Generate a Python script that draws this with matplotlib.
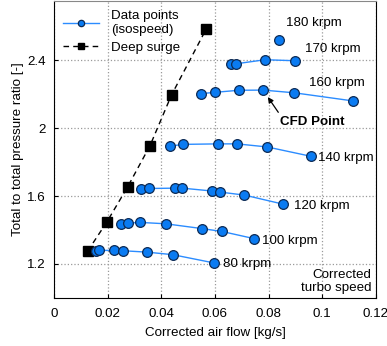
import matplotlib
matplotlib.use('Agg')
import matplotlib.pyplot as plt

plt.rcParams['font.family'] = ['Liberation Sans', 'DejaVu Sans']

# isospeed lines (corrected air flow [kg/s], pressure ratio [-])
flow_80 = [0.0155, 0.0168, 0.0225, 0.0257, 0.0345, 0.0442, 0.0597]
pr_80 = [1.276, 1.280, 1.280, 1.278, 1.270, 1.255, 1.206]
flow_100 = [0.0250, 0.0274, 0.0321, 0.0416, 0.0550, 0.0625, 0.0747]
pr_100 = [1.437, 1.441, 1.445, 1.437, 1.409, 1.392, 1.349]
flow_120 = [0.0323, 0.0353, 0.0451, 0.0478, 0.0590, 0.0618, 0.0710, 0.0853]
pr_120 = [1.641, 1.645, 1.647, 1.647, 1.630, 1.624, 1.606, 1.553]
flow_140 = [0.0432, 0.0479, 0.0612, 0.0682, 0.0794, 0.0957]
pr_140 = [1.894, 1.905, 1.908, 1.908, 1.890, 1.835]
flow_160 = [0.0547, 0.0601, 0.0689, 0.0780, 0.0896, 0.1115]
pr_160 = [2.204, 2.212, 2.224, 2.225, 2.209, 2.161]
flow_170 = [0.0658, 0.0678, 0.0787, 0.0900]
pr_170 = [2.378, 2.380, 2.404, 2.398]
flow_180 = [0.0837]
pr_180 = [2.518]

# deep surge points
surge_flow = [0.01255, 0.0196, 0.0274, 0.0358, 0.0438, 0.0567]
surge_pr = [1.276, 1.445, 1.653, 1.898, 2.196, 2.584]

lines = [(flow_80, pr_80), (flow_100, pr_100), (flow_120, pr_120),
         (flow_140, pr_140), (flow_160, pr_160), (flow_170, pr_170),
         (flow_180, pr_180)]

fig = plt.figure(figsize=(3.87, 3.46), dpi=100)
ax = fig.add_axes([0.1395, 0.139, 0.832, 0.858])

blue_line = '#2b8cff'
blue_face = '#0a7bf2'
edge = '#0d2b55'

for i, (fl, pr) in enumerate(lines):
    ax.plot(fl, pr, '-o', color=blue_line, lw=1.0, ms=7,
            mfc=blue_face, mec=edge, mew=0.9,
            label='Data points\n(isospeed)' if i == 0 else None, zorder=3)

ax.plot(surge_flow, surge_pr, '--s', color='black', lw=1.0, ms=7,
        mfc='black', mec='black', dashes=(4, 3), label='Deep surge', zorder=2)

fs = 9.6
ax.text(0.0629, 1.202, '80 krpm', fontsize=fs, va='center', ha='left')
ax.text(0.0777, 1.337, '100 krpm', fontsize=fs, va='center', ha='left')
ax.text(0.0894, 1.543, '120 krpm', fontsize=fs, va='center', ha='left')
ax.text(0.0983, 1.825, '140 krpm', fontsize=fs, va='center', ha='left')
ax.text(0.0949, 2.266, '160 krpm', fontsize=fs, va='center', ha='left')
ax.text(0.0937, 2.466, '170 krpm', fontsize=fs, va='center', ha='left')
ax.text(0.0968, 2.62, '180 krpm', fontsize=fs, va='center', ha='center')

# CFD point marker arrow
ax.annotate('', xy=(0.0797, 2.184), xytext=(0.0836, 2.094),
            arrowprops=dict(arrowstyle='-|>', color='black', lw=0.9,
                            shrinkA=0, shrinkB=0, mutation_scale=8))
ax.text(0.0961, 2.037, 'CFD Point', fontsize=fs, fontweight='bold',
        ha='center', va='center')
ax.text(0.1184, 1.025, 'Corrected\nturbo speed', fontsize=fs,
        ha='right', va='bottom', linespacing=1.1)

ax.set_xlim(0, 0.12)
ax.set_ylim(1.0, 2.75)
ax.set_xticks([0, 0.02, 0.04, 0.06, 0.08, 0.1, 0.12])
ax.set_xticklabels(['0', '0.02', '0.04', '0.06', '0.08', '0.1', '0.12'])
ax.set_yticks([1.2, 1.6, 2.0, 2.4])
ax.set_yticklabels(['1.2', '1.6', '2', '2.4'])
ax.tick_params(direction='in', length=3, labelsize=fs)
ax.tick_params(axis='x', pad=7)
ax.tick_params(axis='y', pad=6)
ax.grid(True, color='#9a9a9a', linestyle=':', linewidth=0.9)
ax.set_axisbelow(True)
ax.spines['top'].set_color('#888888')

ax.set_xlabel('Corrected air flow [kg/s]', fontsize=fs, labelpad=5)
ax.set_ylabel('Total to total pressure ratio [-]', fontsize=fs, labelpad=2)

ax.legend(loc='upper left', frameon=False, fontsize=fs, handlelength=2.7,
          borderaxespad=0.3, labelspacing=0.4, handletextpad=0.9,
          markerscale=0.65)

fig.savefig('out.png', dpi=100)
